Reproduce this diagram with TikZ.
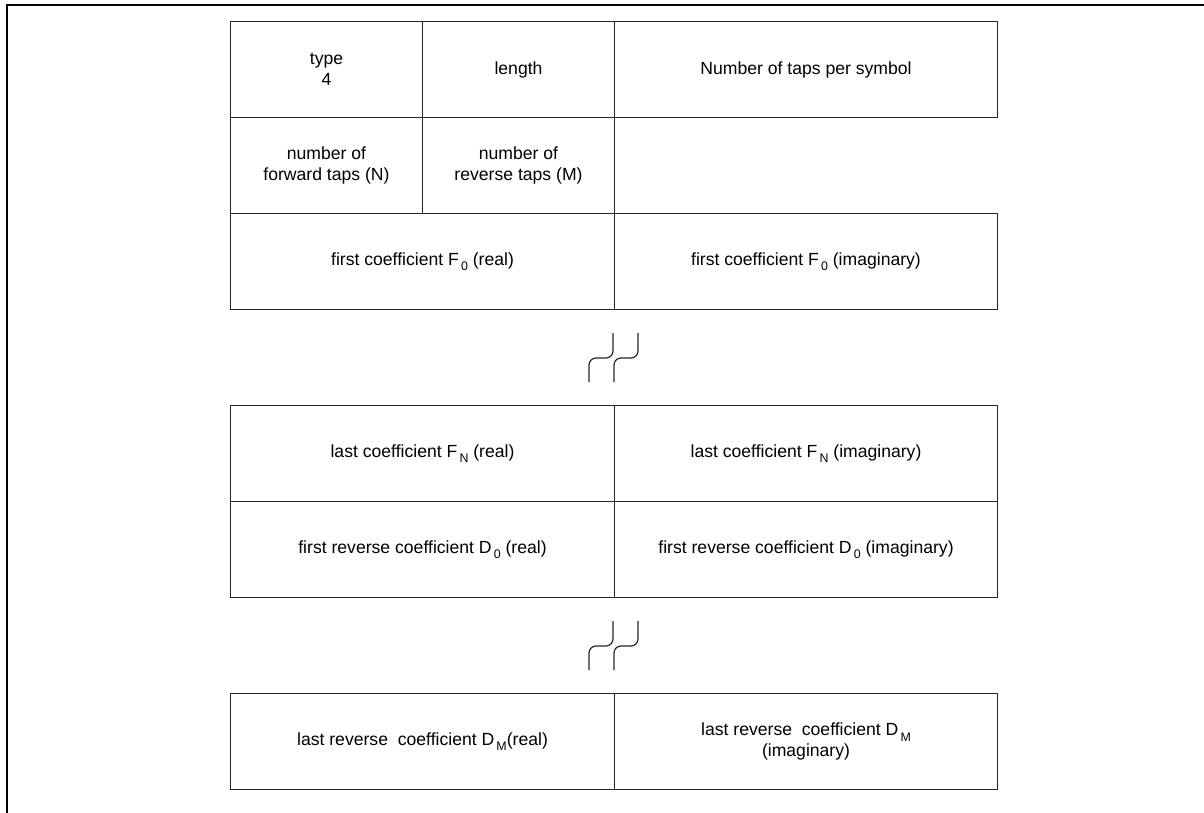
\documentclass[tikz,border=0pt]{standalone}
\usepackage{fontspec}
\setmainfont{Liberation Sans}
\newcommand\lowidx[1]{\kern0.12em\raisebox{-0.6ex}{\fontsize{6.2}{6.2}\selectfont #1}}
\begin{document}
\begin{tikzpicture}[x=0.5pt, y=-0.5pt,
  every node/.style={font=\fontsize{8.8}{10.2}\selectfont, align=center, inner sep=0pt},
  cell/.style={draw=black!85, line width=0.5pt, anchor=north west,
               minimum height=48pt, minimum width=#1},
  cell/.default=96pt]
  \useasboundingbox (0,0) rectangle (1204,813);
  % page frame
  \draw[line width=1pt] (1204,5.5) -- (6.5,5.5) -- (6.5,813);
  % header words
  \node[cell] (type) at (230,21) {type\\4};
  \node[cell] (length) at (422,21) {length};
  \node[cell=191.5pt] (taps) at (614,21) {Number of taps per symbol};
  \node[cell] (fwd) at (230,117) {number of\\forward taps (N)};
  \node[cell] (rev) at (422,117) {number of\\reverse taps (M)};
  % forward coefficients
  \node[cell=192pt] (f0re) at (230,213) {first coefficient F\lowidx{0} (real)};
  \node[cell=191.5pt] (f0im) at (614,213) {first coefficient F\lowidx{0} (imaginary)};
  \node[cell=192pt] (fnre) at (230,405) {last coefficient F\lowidx{N} (real)};
  \node[cell=191.5pt] (fnim) at (614,405) {last coefficient F\lowidx{N} (imaginary)};
  % reverse coefficients
  \node[cell=192pt] (d0re) at (230,501) {first reverse coefficient D\lowidx{0} (real)};
  \node[cell=191.5pt] (d0im) at (614,501) {first reverse coefficient D\lowidx{0} (imaginary)};
  \node[cell=192pt] (dmre) at (230,693) {last reverse\ \ coefficient D\lowidx{M}(real)};
  \node[cell=191.5pt] (dmim) at (614,693) {last reverse\ \ coefficient D\lowidx{M}\\(imaginary)};
  % breaks
  \foreach \y in {358,646} {
    \draw[black!85, line width=0.6pt, rounded corners=3.5pt]
      (613,\y-25) -- (613,\y) -- (589,\y) -- (589,\y+24);
    \draw[black!85, line width=0.6pt, rounded corners=3.5pt]
      (638,\y-25) -- (638,\y) -- (614,\y) -- (614,\y+24);
  }
\end{tikzpicture}
\end{document}
